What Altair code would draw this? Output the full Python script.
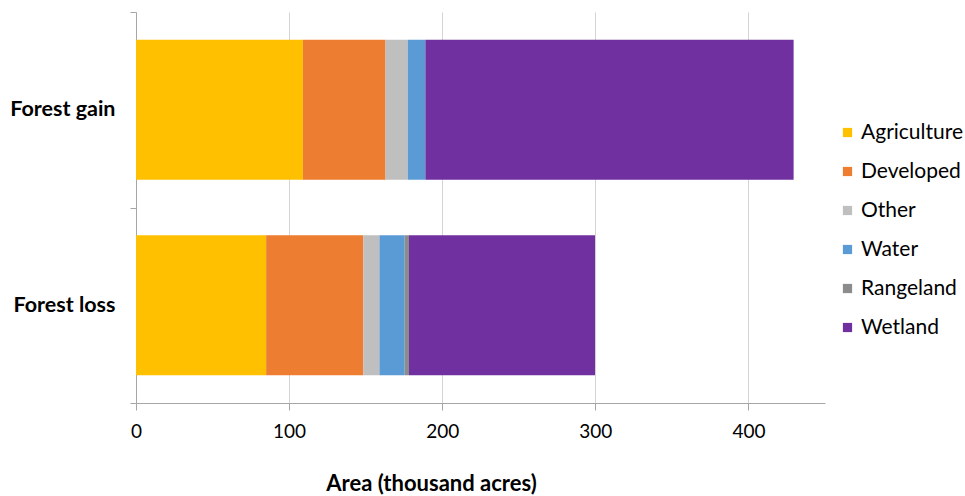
import altair as alt
import pandas as pd

# Land-cover classes, in stacking order
classes = ["Agriculture", "Developed", "Other", "Water", "Rangeland", "Wetland"]
colors = ["#FFC000", "#ED7D31", "#BFBFBF", "#5B9BD5", "#8C8C8C", "#7030A0"]

# Area converted (thousand acres) per class
categories = ["Forest gain", "Forest loss"]
gain_values = [109, 54, 14.5, 11.5, 0, 240.5]
loss_values = [85, 63.5, 10.5, 16.5, 2.8, 121.5]

x_ticks = [0, 100, 200, 300, 400]

rows = []
for cat, vals in zip(categories, [gain_values, loss_values]):
    for i, (cls, v) in enumerate(zip(classes, vals)):
        rows.append({"change": cat, "class": cls, "area": v, "order": i})
df = pd.DataFrame(rows)

FONT = "Lato"

chart = (
    alt.Chart(df)
    .mark_bar(height=alt.RelativeBandSize(0.716))
    .encode(
        y=alt.Y(
            "change:N",
            sort=categories,
            title=None,
            scale=alt.Scale(paddingInner=0, paddingOuter=0),
            axis=alt.Axis(
                tickBand="extent",
                domainColor="#a6a6a6",
                tickColor="#a6a6a6",
                tickSize=6,
                labelPadding=15,
                labelFont=FONT,
                labelFontSize=21.5,
                labelFontWeight="bold",
                labelColor="#000000",
                grid=False,
            ),
        ),
        x=alt.X(
            "area:Q",
            stack="zero",
            title="Area (thousand acres)",
            scale=alt.Scale(domain=[0, 450], nice=False),
            axis=alt.Axis(
                values=x_ticks,
                grid=True,
                gridColor="#d4d4d4",
                domainColor="#a6a6a6",
                tickColor="#a6a6a6",
                tickSize=7,
                labelPadding=12,
                labelFlush=False,
                labelFont=FONT,
                labelFontSize=19,
                labelColor="#000000",
                titleFont=FONT,
                titleFontSize=22,
                titleFontWeight="bold",
                titleColor="#000000",
                titleX=295,
                titleY=87,
                titleAlign="center",
                titleBaseline="alphabetic",
            ),
        ),
        color=alt.Color(
            "class:N",
            scale=alt.Scale(domain=classes, range=colors),
            legend=alt.Legend(
                title=None,
                orient="none",
                legendX=701,
                legendY=110,
                symbolType="square",
                symbolSize=85,
                symbolStrokeWidth=0,
                labelFont=FONT,
                labelFontSize=21,
                labelColor="#000000",
                labelOffset=3,
                rowPadding=17,
            ),
        ),
        order=alt.Order("order:Q", sort="ascending"),
    )
    .properties(
        width=689,
        height=391,
        background="#ffffff",
        autosize=alt.AutoSizeParams(type="none"),
        padding={"left": 136, "top": 12, "right": 140, "bottom": 93},
    )
    .configure_view(strokeWidth=0, stroke="transparent")
)

chart.save("out.html", embed_options={"renderer": "svg", "actions": False})
